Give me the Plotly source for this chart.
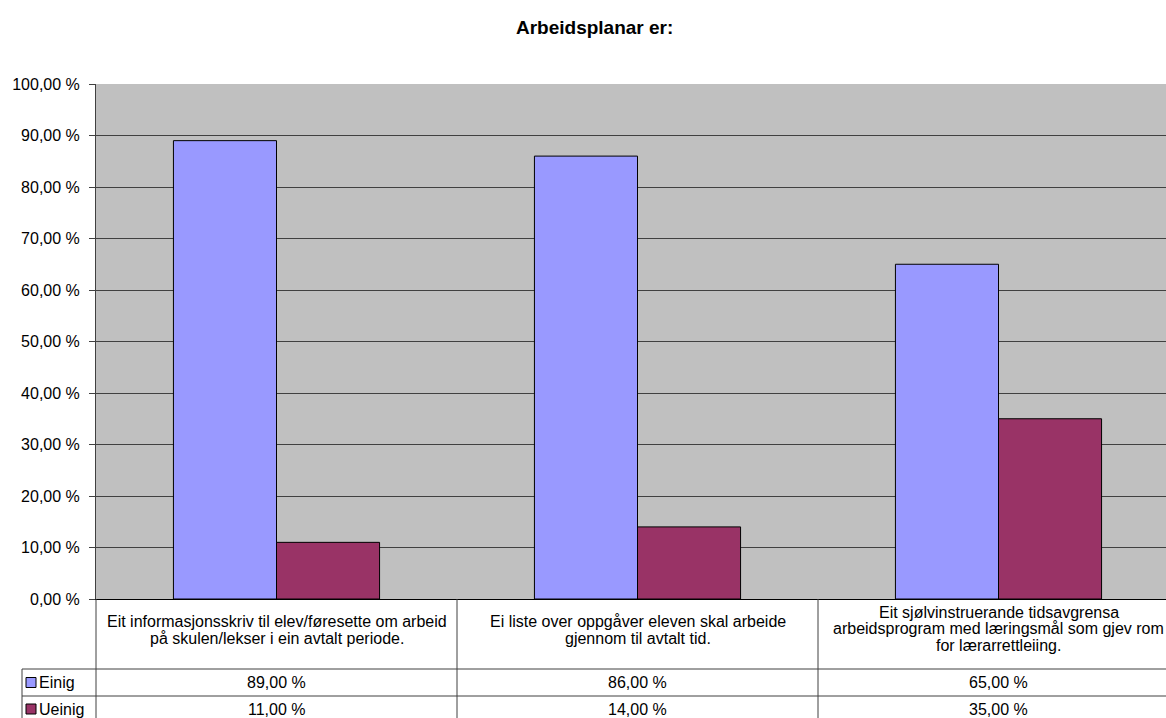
import plotly.graph_objects as go

categories = [
    "Eit informasjonsskriv til elev/føresette om arbeid<br>på skulen/lekser i ein avtalt periode.",
    "Ei liste over oppgåver eleven skal arbeide<br>gjennom til avtalt tid.",
    "Eit sjølvinstruerande tidsavgrensa<br>arbeidsprogram med læringsmål som gjev rom<br>for lærarrettleiing.",
]
series_names = ["Einig", "Ueinig"]
einig = [89.0, 86.0, 65.0]
ueinig = [11.0, 14.0, 35.0]
tick_values = [0, 10, 20, 30, 40, 50, 60, 70, 80, 90, 100]
colors = ["#9999FF", "#993366"]
title = "Arbeidsplanar er:"

def pct(v):
    return f"{v:.2f}".replace(".", ",") + " %"

W, H = 1166, 718
L, T, B = 96, 84, 599
plot_h = B - T
def py(p):
    return (B - p) / plot_h
def px(p):
    return (p - L) / (W - L)

xs = list(range(len(categories)))
FAM = "Liberation Sans, Arial, sans-serif"
font = dict(family=FAM, size=16, color="black")

fig = go.Figure()
for name, vals, col in zip(series_names, [einig, ueinig], colors):
    fig.add_trace(go.Bar(x=xs, y=vals, name=name, marker=dict(color=col, line=dict(color="black", width=1)),
                         showlegend=False, hoverinfo="skip"))

LC = "#404040"
shapes = []
for b in [0.5, 1.5]:
    shapes.append(dict(type="line", xref="x", yref="paper", x0=b, x1=b, y0=0, y1=py(H + 5),
                       line=dict(color=LC, width=1)))
shapes.append(dict(type="line", xref="paper", yref="paper", x0=0, x1=0, y0=0, y1=py(H + 5),
                   line=dict(color=LC, width=1)))
shapes.append(dict(type="line", xref="paper", yref="paper", x0=px(22), x1=px(22), y0=py(669), y1=py(H + 5),
                   line=dict(color=LC, width=1)))
for yy in [669, 696]:
    shapes.append(dict(type="line", xref="paper", yref="paper", x0=px(22), x1=1.01, y0=py(yy), y1=py(yy),
                       line=dict(color=LC, width=1)))
row_centers = [682.5, 709]
for i, col in enumerate(colors):
    yc = row_centers[i]
    shapes.append(dict(type="rect", xref="paper", yref="paper", x0=px(26), x1=px(36), y0=py(yc + 5), y1=py(yc - 5),
                       fillcolor=col, line=dict(color="black", width=1)))

annotations = []
LINE_H = 16.5
block_centers = [630, 630, 628.5]
for i, c in enumerate(categories):
    lines = c.split("<br>")
    n = len(lines)
    for k, ln in enumerate(lines):
        yc = block_centers[i] + (k - (n - 1) / 2) * LINE_H
        annotations.append(dict(x=i, xref="x", y=py(yc), yref="paper", text=ln, showarrow=False,
                                font=font, xanchor="center", yanchor="middle", align="center"))
for row, vals in enumerate([einig, ueinig]):
    yc = row_centers[row]
    for i, v in enumerate(vals):
        annotations.append(dict(x=i, xref="x", y=py(yc), yref="paper", text=pct(v), showarrow=False,
                                font=font, xanchor="center", yanchor="middle"))
    annotations.append(dict(x=px(37), xref="paper", y=py(yc), yref="paper", text=series_names[row], showarrow=False,
                            font=font, xanchor="left", yanchor="middle"))
annotations.append(dict(x=px(594), xref="paper", y=py(28), yref="paper", text="<b>" + title + "</b>", showarrow=False,
                        font=dict(family=FAM, size=19, color="black"), xanchor="center", yanchor="middle"))

fig.update_layout(
    width=W, height=H,
    margin=dict(l=L, r=0, t=T, b=H - B, pad=0),
    paper_bgcolor="white", plot_bgcolor="#C0C0C0",
    barmode="group", bargap=0.429, bargroupgap=0,
    font=font,
    shapes=shapes, annotations=annotations,
    xaxis=dict(range=[-0.5, -0.5 + (W - L) / 361.0], showticklabels=False, showgrid=False, zeroline=False,
               showline=True, linecolor="black", linewidth=1, ticks="", fixedrange=True),
    yaxis=dict(range=[0, 100], tickvals=tick_values, ticktext=[pct(v) for v in tick_values],
               showgrid=True, gridcolor=LC, gridwidth=1, zeroline=False,
               showline=True, linecolor=LC, linewidth=1, ticks="outside", ticklen=6, tickcolor=LC,
               ticklabelstandoff=6, tickfont=font, fixedrange=True),
)
fig.write_html("out.html", config={"displayModeBar": False},
               post_script="document.body.style.margin='0';document.body.style.overflow='hidden';")
